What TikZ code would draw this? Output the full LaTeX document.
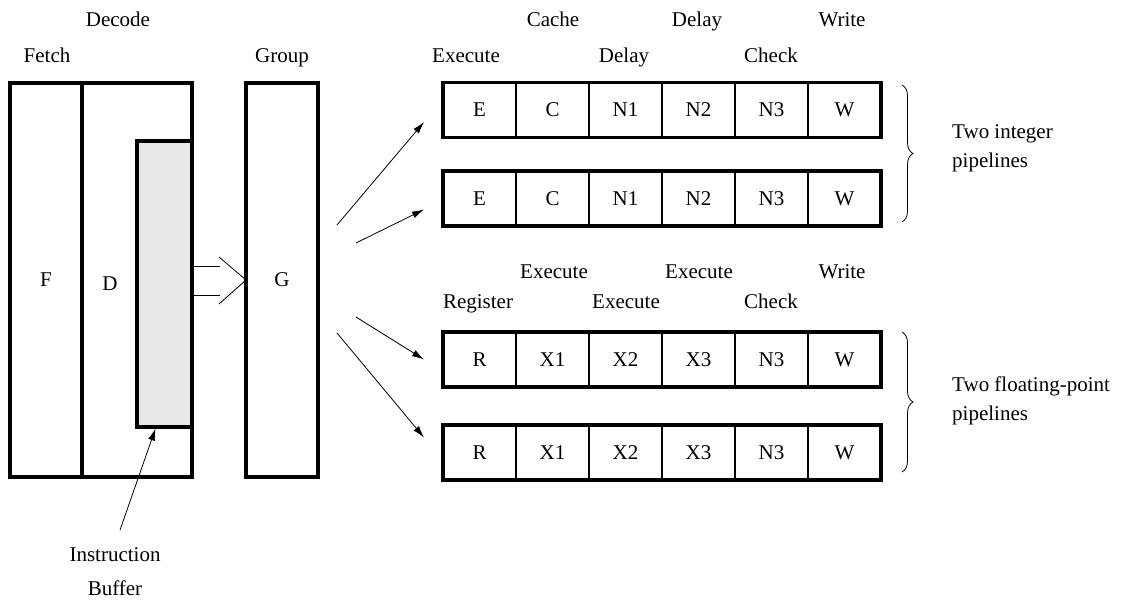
\documentclass[tikz,border=0pt]{standalone}
\usepackage{fontspec}
\setmainfont{Liberation Serif}
\usetikzlibrary{arrows.meta,decorations.pathreplacing,calc}
\begin{document}
\begin{tikzpicture}[x=1pt,y=-1pt,
  thickbox/.style={draw, line width=3.2pt, inner sep=0pt, outer sep=0pt},
  cell/.style={draw, line width=2.2pt, minimum width=73pt, minimum height=55pt, inner sep=0pt, outer sep=0pt, font=\fontsize{21}{25}\selectfont},
  lbl/.style={font=\fontsize{21}{25}\selectfont, inner sep=0pt, anchor=base},
  side/.style={font=\fontsize{21}{29}\selectfont, inner sep=0pt, align=left, anchor=west},
  arr/.style={line width=0.8pt, -{Latex[length=12pt,width=7pt]}},
  thinline/.style={line width=0.8pt},
  brc/.style={decorate, decoration={brace, amplitude=11pt}, line width=0.8pt}
]
\useasboundingbox (0,0) rectangle (1139,607);

% Fetch / Decode / buffer / Group
\node[thickbox, minimum width=72pt, minimum height=394pt, font=\fontsize{21}{25}\selectfont] (F) at (46,280) {F};
\node[thickbox, minimum width=110pt, minimum height=394pt] (D) at (137,280) {};
\node[thickbox, fill=black!9, minimum width=55pt, minimum height=286pt] (buf) at (164.5,284) {};
\node[lbl] (Dl) at (110,290) {D};
\node[thickbox, minimum width=72pt, minimum height=394pt, font=\fontsize{21}{25}\selectfont] (G) at (282,280) {G};

% stage labels
\node[lbl] (lfetch) at (47,63) {Fetch};
\node[lbl] (ldecode) at (118,27) {Decode};
\node[lbl] (lgroup) at (282,63) {Group};

% double (open) arrow buffer -> G
\coordinate (da1) at (220,266);
\coordinate (da2) at (220,295);
\coordinate (ch1) at (219,257);
\coordinate (ch2) at (219,304);
\draw[thinline] (buf.east |- da1) -- (da1);
\draw[thinline] (buf.east |- da2) -- (da2);
\draw[thinline] (ch1) -- (G.west) -- (ch2);

% pipelines
\foreach \r/\y/\labs in {1/110/{E,C,N1,N2,N3,W}, 2/198.5/{E,C,N1,N2,N3,W}, 3/359.5/{R,X1,X2,X3,N3,W}, 4/452.5/{R,X1,X2,X3,N3,W}}{
  \foreach \t [count=\i] in \labs {
    \node[cell] (r\r c\i) at ({443+73*\i-36.5},\y) {\t};
  }
  \draw[line width=3.2pt] (r\r c1.north west) rectangle (r\r c6.south east);
}

% integer pipeline labels
\node[lbl] (l1) at (466,63) {Execute};
\node[lbl] (l2) at (553,27) {Cache};
\node[lbl] (l3) at (624,63) {Delay};
\node[lbl] (l4) at (697,27) {Delay};
\node[lbl] (l5) at (771,63) {Check};
\node[lbl] (l6) at (842,27) {Write};
% floating-point pipeline labels
\node[lbl] (m1) at (478,308) {Register};
\node[lbl] (m2) at (554,278) {Execute};
\node[lbl] (m3) at (626,308) {Execute};
\node[lbl] (m4) at (699,278) {Execute};
\node[lbl] (m5) at (771,308) {Check};
\node[lbl] (m6) at (842,278) {Write};

% issue arrows from G
\coordinate (s1) at (337,225);
\coordinate (s2) at (356,243);
\coordinate (s3) at (356,317);
\coordinate (s4) at (337,333);
\draw[arr] (s1) -- ($(r1c1.west)+(-19,12)$);
\draw[arr] (s2) -- ($(r2c1.west)+(-19,11)$);
\draw[arr] (s3) -- ($(r3c1.west)+(-19,0)$);
\draw[arr] (s4) -- ($(r4c1.west)+(-19,-15)$);

% braces
\draw[brc] (902,85) -- (902,222);
\draw[brc] (902,332) -- (902,472);
\node[side] (tint) at (952,148) {Two integer\\pipelines};
\node[side] (tfp) at (952,401) {Two floating-point\\pipelines};

% instruction buffer
\node[font=\fontsize{21}{34}\selectfont, align=center, inner sep=0pt, anchor=north] (ib) at (115,547) {Instruction\\Buffer};
\coordinate (ibt) at (120,530);
\draw[arr] (ibt) -- ($(buf.south)+(-9,1.5)$);
\end{tikzpicture}
\end{document}
